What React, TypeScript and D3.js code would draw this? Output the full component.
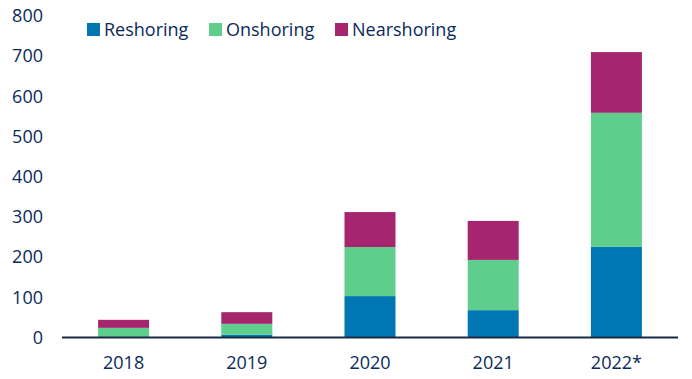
import React from "react";
import * as d3 from "d3";

const categories = ["2018", "2019", "2020", "2021", "2022*"];
const reshoring = [0, 7, 103, 68, 226];
const onshoring = [24, 27, 122, 125, 333];
const nearshoring = [20, 29, 87, 97, 151];
const seriesNames = ["Reshoring", "Onshoring", "Nearshoring"];
const yTicks = [0, 100, 200, 300, 400, 500, 600, 700, 800];

const colors = ["#0077B3", "#5FCD8B", "#A5266E"];
const textColor = "#0A2A5C";

export default function App() {
  const W = 692, H = 379;
  const x = d3.scaleBand().domain(categories).range([62, 678]).paddingInner(0.586).paddingOuter(0.293);
  const y = d3.scaleLinear().domain([0, 800]).range([337.5, 15.9]);
  const rows = categories.map((c, i) => ({ cat: c, Reshoring: reshoring[i], Onshoring: onshoring[i], Nearshoring: nearshoring[i] }));
  const stack = d3.stack<any>().keys(seriesNames)(rows);
  const font = "'Open Sans', sans-serif";
  const legendX = [87, 209, 335];
  return (
    <svg width={W} height={H} style={{ position: "absolute", left: 0, top: 0 }} fontFamily={font}>
      {stack.map((s, si) => (
        <g key={s.key} fill={colors[si]}>
          {s.map((d, i) => (
            <rect key={i} x={x(categories[i])} width={x.bandwidth()} y={y(d[1])} height={Math.max(0, y(d[0]) - y(d[1]))} />
          ))}
        </g>
      ))}
      <line x1={62} x2={678} y1={y(0)} y2={y(0)} stroke="#1B2A44" strokeWidth={2} />
      {yTicks.map((t) => (
        <text key={t} x={43} y={y(t)} dy="0.35em" textAnchor="end" fontSize={18} fill={textColor}>{t}</text>
      ))}
      {categories.map((c) => (
        <text key={c} x={(x(c) as number) + x.bandwidth() / 2} y={363} dy="0.35em" textAnchor="middle" fontSize={18} fill={textColor}>{c}</text>
      ))}
      {seriesNames.map((n, i) => (
        <g key={n}>
          <rect x={legendX[i]} y={23} width={13} height={13} fill={colors[i]} />
          <text x={legendX[i] + 17} y={29.5} dy="0.35em" fontSize={18} fill={textColor}>{n}</text>
        </g>
      ))}
    </svg>
  );
}
